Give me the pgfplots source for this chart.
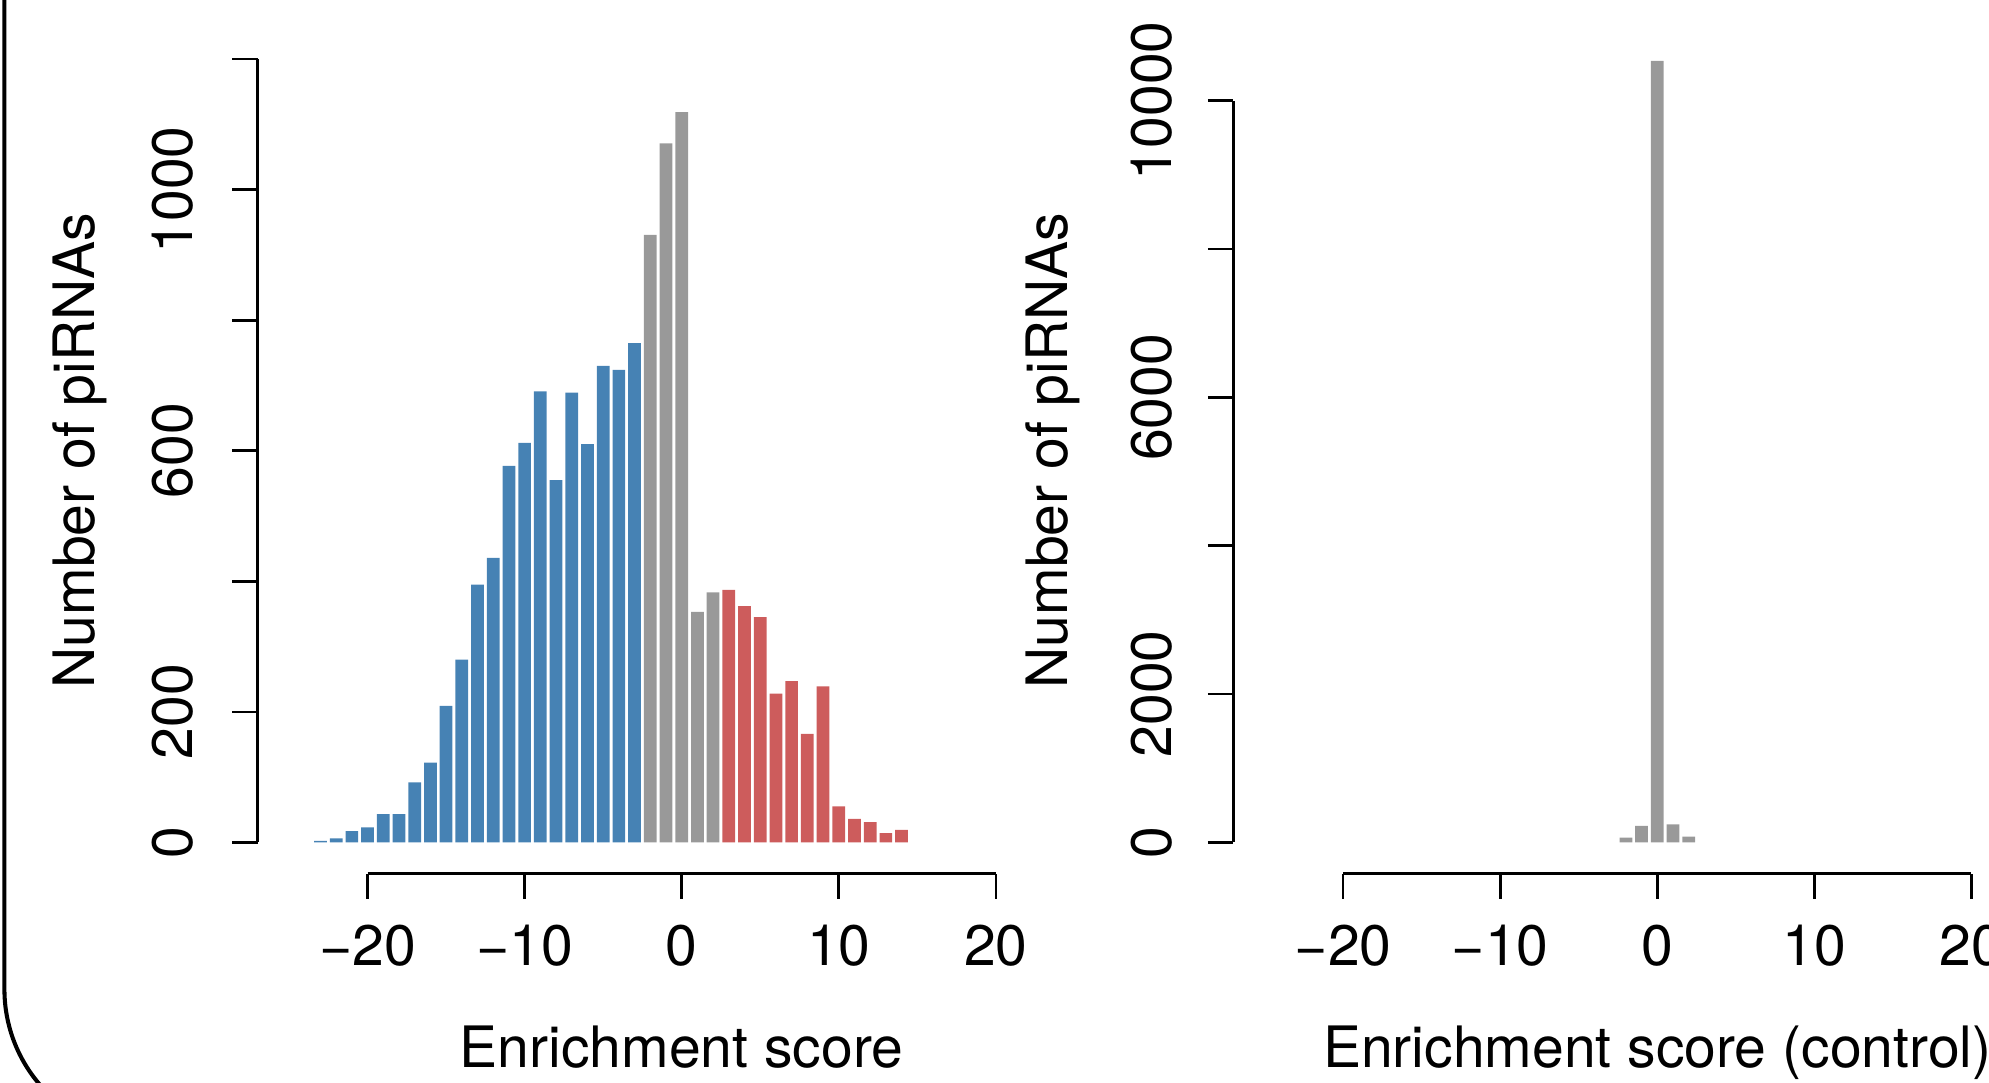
\documentclass[border=0pt]{standalone}
\usepackage{fontspec}
\setmainfont{TeX Gyre Heros}
\usepackage{pgfplots}
\pgfplotsset{compat=1.18}

\definecolor{negblue}{RGB}{70,130,180}
\definecolor{posred}{RGB}{205,92,92}
\definecolor{midgray}{RGB}{153,153,153}

\newcommand\fs{\fontsize{22.5}{27}\selectfont}

\pgfplotsset{
  rhist/.style={
    scale only axis, width=334.3pt, height=333.35pt,
    anchor=south west,
    xmin=-27, xmax=27,
    axis x line*=bottom, axis y line*=left,
    axis line style={draw=none},
    tick align=outside, major tick length=10pt,
    every tick/.style={black, line width=1pt},
    scaled y ticks=false, scaled x ticks=false,
    xtick={-20,-10,0,10,20},
    xticklabels={−20,−10,0,10,20},
    xticklabel style={anchor=base, font=\fs},
    xticklabel shift=26.4pt,
    yticklabel style={rotate=90, anchor=south, inner sep=0pt, font=\fs},
    label style={font=\fs},
    xlabel style={at={(axis description cs:0.5,-0.2298)}, anchor=base},
    clip=false,
  },
  hbar/.style={ybar, bar width=0.81, bar shift=0pt, draw=none, fill=#1},
}

\begin{document}
\begin{tikzpicture}
\path[use as bounding box] (0,0) rectangle (784pt,426.5pt);
\clip (0,0) rectangle (784pt,426.5pt);
\draw[line width=1.6pt] (1.75pt,430pt) -- (1.75pt,36.5pt)
  arc[start angle=180, end angle=222, radius=57.5pt];

% left panel: piRNAs
\begin{axis}[rhist, at={(101.55pt,82.15pt)},
  ymin=-48, ymax=1248,
  ytick={0,200,...,1200}, yticklabels={0,200,,600,,1000,},
  yticklabel shift=15pt,
  xlabel={Enrichment score}, ylabel={Number of piRNAs},
  ylabel style={at={(axis description cs:-0.1925,0.5)}, anchor=base}]
\addplot[hbar=negblue] coordinates {
  (-23,2) (-22,6) (-21,17) (-20,23) (-19,43) (-18,43) (-17,92) (-16,122)
  (-15,209) (-14,280) (-13,395) (-12,436) (-11,577) (-10,612) (-9,691)
  (-8,555) (-7,689) (-6,610) (-5,730) (-4,724) (-3,765)};
\addplot[hbar=midgray] coordinates {
  (-2,931) (-1,1071) (0,1119) (1,353) (2,383)};
\addplot[hbar=posred] coordinates {
  (3,387) (4,362) (5,345) (6,228) (7,247) (8,166) (9,239) (10,55)
  (11,36) (12,31) (13,14) (14,19)};
\draw[line width=1pt] (axis cs:-20,-48) -- (axis cs:20,-48);
\draw[line width=1pt] (axis cs:-27,0) -- (axis cs:-27,1200);
\end{axis}

% right panel: control
\begin{axis}[rhist, at={(486.1pt,82.15pt)},
  ymin=-422.4, ymax=10982.4,
  ytick={0,2000,...,10000}, yticklabels={0,2000,,6000,,10000},
  yticklabel shift=13.8pt,
  xlabel={Enrichment score (control)}, ylabel={Number of piRNAs},
  ylabel style={at={(axis description cs:-0.1953,0.5)}, anchor=base}]
\addplot[hbar=midgray] coordinates {
  (-2,63) (-1,222) (0,10537) (1,241) (2,75)};
\draw[line width=1pt] (axis cs:-20,-422.4) -- (axis cs:20,-422.4);
\draw[line width=1pt] (axis cs:-27,0) -- (axis cs:-27,10000);
\end{axis}
\end{tikzpicture}
\end{document}
